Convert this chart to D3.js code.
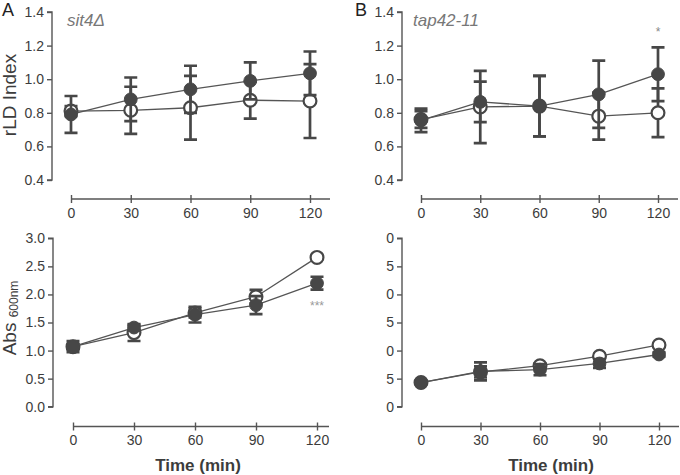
<!DOCTYPE html>
<html><head><meta charset="utf-8">
<script src="https://cdn.jsdelivr.net/npm/d3@7"></script>
<style>
body{margin:0;background:#fff;}
svg{font-family:"Liberation Sans",Arial,sans-serif;}
</style></head><body>
<svg id="c" width="680" height="475"></svg>
<script>
const times = [0, 30, 60, 90, 120];
const xTickLabels = ["0", "30", "60", "90", "120"];
const rldTicks = [0.4, 0.6, 0.8, 1.0, 1.2, 1.4];
const absTicks = [0.0, 0.5, 1.0, 1.5, 2.0, 2.5, 3.0];
const absTickLabelsB = ["0", "5", "0", "5", "0", "5", "0"];

const aRldOpen = [0.81, 0.815, 0.83, 0.875, 0.87];
const aRldOpenErr = [0.03, 0.14, 0.19, 0.11, 0.22];
const aRldFilled = [0.79, 0.88, 0.94, 0.99, 1.035];
const aRldFilledErr = [0.11, 0.13, 0.14, 0.11, 0.13];

const bRldOpen = [0.76, 0.835, 0.84, 0.78, 0.80];
const bRldOpenErr = [0.05, 0.215, 0.18, 0.14, 0.145];
const bRldFilled = [0.755, 0.865, 0.84, 0.91, 1.03];
const bRldFilledErr = [0.07, 0.12, 0.18, 0.20, 0.16];

const aAbsOpen = [1.07, 1.32, 1.67, 1.96, 2.66];
const aAbsOpenErr = [0.05, 0.15, 0.08, 0.12, 0.03];
const aAbsFilled = [1.07, 1.41, 1.64, 1.81, 2.20];
const aAbsFilledErr = [0.1, 0.05, 0.14, 0.16, 0.115];

const bAbsOpen = [0.43, 0.62, 0.73, 0.90, 1.10];
const bAbsOpenErr = [0.02, 0.10, 0.04, 0.04, 0.03];
const bAbsFilled = [0.43, 0.63, 0.66, 0.77, 0.93];
const bAbsFilledErr = [0.03, 0.16, 0.10, 0.08, 0.04];

const svg = d3.select("#c");
const AX = "#555", MK = "#474747", TXT = "#3c3c3c";

function panel(cfg){
  const x = d3.scaleLinear().domain([0,120]).range([cfg.x0, cfg.x120]);
  const y = d3.scaleLinear().domain(cfg.yDomain).range([cfg.yBottom, cfg.yTop]);
  const g = svg.append("g");
  const ya = d3.axisLeft(y).tickValues(cfg.yTicks).tickSize(5).tickPadding(3)
     .tickFormat((d,i)=> cfg.yLabels ? cfg.yLabels[i] : d3.format(".1f")(d));
  const yg = g.append("g").attr("transform",`translate(${cfg.yAxisX},0)`).call(ya);
  yg.select(".domain").attr("stroke",AX).attr("stroke-width",1.4).attr("d",`M-5,${y(cfg.yDomain[1])}H0V${y(cfg.yDomain[0])}H-5`);
  yg.selectAll(".tick line").attr("stroke",AX).attr("stroke-width",1.4);
  yg.selectAll(".tick text").attr("fill",TXT).style("font-size","14px");
  const xa = d3.axisBottom(x).tickValues(times).tickSize(5).tickPadding(4).tickFormat((d,i)=>xTickLabels[i]);
  const xg = g.append("g").attr("transform",`translate(0,${cfg.xAxisY})`).call(xa);
  xg.select(".domain").attr("stroke",AX).attr("stroke-width",1.4).attr("d",`M${x(0)},0H${cfg.xEnd}`);
  xg.selectAll(".tick line").attr("stroke",AX).attr("stroke-width",1.4).attr("y1",-4).attr("y2",4);
  xg.selectAll(".tick text").attr("fill",TXT).style("font-size","14px");

  const line = d3.line().x((d,i)=>x(times[i])).y(d=>y(d));
  function series(vals, errs, filled){
    const s = g.append("g");
    s.append("path").attr("d",line(vals)).attr("fill","none").attr("stroke",AX).attr("stroke-width",1.3);
    vals.forEach((v,i)=>{
      const cx = x(times[i]), t = y(v+errs[i]), b = y(v-errs[i]);
      s.append("path").attr("d",`M${cx},${t}V${b}M${cx-6.5},${t}H${cx+6.5}M${cx-6.5},${b}H${cx+6.5}`)
        .attr("stroke",MK).attr("stroke-width",2.7).attr("fill","none");
    });
    s.selectAll("circle").data(vals).join("circle")
      .attr("cx",(d,i)=>x(times[i])).attr("cy",d=>y(d)).attr("r",6.4)
      .attr("fill",filled?MK:"#fff").attr("stroke",MK).attr("stroke-width",filled?1:2.2);
  }
  series(cfg.open, cfg.openErr, false);
  series(cfg.filled, cfg.filledErr, true);
  return {g,x,y};
}

const pA = panel({x0:71,x120:310,xEnd:330,yAxisX:52,yDomain:[0.4,1.4],yTop:12,yBottom:180,xAxisY:199,
  yTicks:rldTicks,open:aRldOpen,openErr:aRldOpenErr,filled:aRldFilled,filledErr:aRldFilledErr});
const pB = panel({x0:421,x120:658,xEnd:678,yAxisX:402,yDomain:[0.4,1.4],yTop:12,yBottom:180,xAxisY:199,
  yTicks:rldTicks,open:bRldOpen,openErr:bRldOpenErr,filled:bRldFilled,filledErr:bRldFilledErr});
const pC = panel({x0:73,x120:317,xEnd:329,yAxisX:53,yDomain:[0,3],yTop:238.3,yBottom:406.7,xAxisY:426.5,
  yTicks:absTicks,open:aAbsOpen,openErr:aAbsOpenErr,filled:aAbsFilled,filledErr:aAbsFilledErr});
const pD = panel({x0:421,x120:659,xEnd:679,yAxisX:402,yDomain:[0,3],yTop:238.3,yBottom:406.7,xAxisY:426.5,
  yTicks:absTicks,yLabels:absTickLabelsB,open:bAbsOpen,openErr:bAbsOpenErr,filled:bAbsFilled,filledErr:bAbsFilledErr});

svg.append("text").attr("x",2).attr("y",16).text("A").attr("fill","#222").style("font-size","18px");
svg.append("text").attr("x",355).attr("y",16).text("B").attr("fill","#222").style("font-size","18px");
svg.append("text").attr("x",67).attr("y",26).text("sit4Δ").attr("fill","#777").style("font-size","17px").style("font-style","italic");
svg.append("text").attr("x",413).attr("y",26).text("tap42-11").attr("fill","#777").style("font-size","17px").style("font-style","italic");
svg.append("text").attr("transform","translate(16,95) rotate(-90)").attr("text-anchor","middle")
  .text("rLD Index").attr("fill",TXT).style("font-size","19px");
const abs = svg.append("text").attr("transform","translate(16,318) rotate(-90)").attr("text-anchor","middle")
  .attr("fill",TXT).style("font-size","19px");
abs.append("tspan").text("Abs ");
abs.append("tspan").text("600nm").style("font-size","12px").attr("dy",2);
svg.append("text").attr("x",198).attr("y",471).attr("text-anchor","middle").text("Time (min)")
  .attr("fill",TXT).style("font-size","17px").style("font-weight","bold");
svg.append("text").attr("x",551).attr("y",471).attr("text-anchor","middle").text("Time (min)")
  .attr("fill",TXT).style("font-size","17px").style("font-weight","bold");
svg.append("text").attr("x",pB.x(120)).attr("y",pB.y(1.255)).attr("text-anchor","middle").text("*")
  .attr("fill","#888").style("font-size","12px");
svg.append("text").attr("x",pC.x(120)).attr("y",pC.y(1.73)).attr("text-anchor","middle").text("***")
  .attr("fill","#999").style("font-size","12px");
</script></body></html>
